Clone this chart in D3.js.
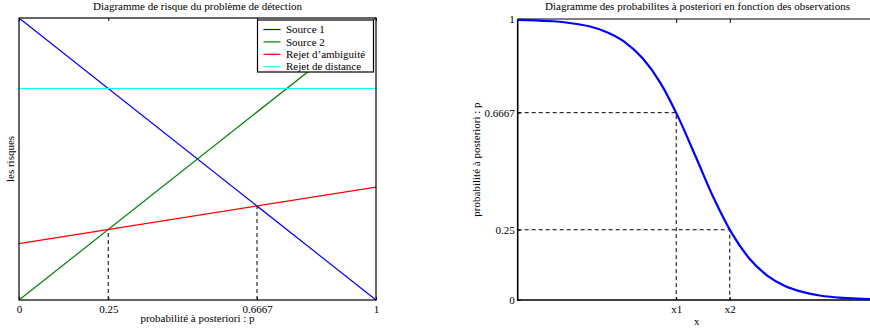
<!DOCTYPE html>
<html>
<head>
<meta charset="utf-8">
<script src="https://cdn.jsdelivr.net/npm/d3@7"></script>
<style>
  body { margin: 0; background: #fff; }
  text { font-family: "Liberation Serif", "Times New Roman", serif; fill: #000; }
</style>
</head>
<body>
<div id="chart"></div>
<script>
// left chart : risks vs posterior probability p
var pDomain = [0, 1];
var pTicks = [0, 0.25, 0.6667, 1];
var pTickLabels = ["0", "0.25", "0.6667", "1"];
var riskNames = ["Source 1", "Source 2", "Rejet d\u2019ambiguité", "Rejet de distance"];
var riskColors = ["#0000ff", "#008000", "#ff0000", "#00ffff"];
var riskStart = [1, 0, 0.2, 0.75];   // value at p = 0
var riskEnd = [0, 1, 0.4, 0.75];     // value at p = 1
var cutP = [0.25, 0.6667];
var cutRisk = [0.25, 0.3333];

var obsX = [0, 0.25, 0.5, 0.75, 1, 1.25, 1.5, 1.75, 2, 2.25, 2.5, 2.75, 3, 3.25, 3.5, 3.75, 4, 4.25, 4.5, 4.75, 5];
var obsP = [0.997, 0.995, 0.992, 0.985, 0.974, 0.953, 0.918, 0.860, 0.772, 0.650, 0.506, 0.360, 0.237, 0.146, 0.086, 0.049, 0.028, 0.015, 0.0085, 0.0047, 0.0026];
var xTicks = [2.22, 2.97];
var xTickLabels = ["x1", "x2"];
var yTicks = [0, 0.25, 0.6667, 1];
var yTickLabels = ["0", "0.25", "0.6667", "1"];

var width = 870, height = 332, fs = 11;
var svg = d3.select("#chart").append("svg")
  .attr("width", width).attr("height", height);

function styleAxis(g) {
  g.attr("font-family", null).attr("font-size", null);
  g.selectAll(".domain").remove();
  g.selectAll(".tick line").attr("stroke", "#000");
  g.selectAll(".tick text").style("font-size", fs + "px");
}

/* ---------- left chart ---------- */
var L = {left: 19, right: 376, top: 18, bottom: 300};
var xL = d3.scaleLinear().domain(pDomain).range([L.left, L.right]);
var yL = d3.scaleLinear().domain([0, 1]).range([L.bottom, L.top]);

var left = svg.append("g");

// risk lines
riskNames.forEach(function (name, i) {
  left.append("line")
    .attr("x1", xL(0)).attr("y1", yL(riskStart[i]))
    .attr("x2", xL(1)).attr("y2", yL(riskEnd[i]))
    .attr("stroke", riskColors[i]).attr("stroke-width", 1.2);
});

// dashed cuts
cutP.forEach(function (p, i) {
  left.append("line")
    .attr("x1", xL(p)).attr("x2", xL(p))
    .attr("y1", yL(0)).attr("y2", yL(cutRisk[i]))
    .attr("stroke", "#000").attr("stroke-dasharray", "4,3");
});

left.append("g")
  .attr("transform", "translate(0," + L.bottom + ")")
  .call(d3.axisBottom(xL).tickValues(pTicks).tickSize(-3).tickPadding(5)
    .tickFormat(function (d, i) { return pTickLabels[i]; }))
  .call(styleAxis);
left.append("g")
  .attr("transform", "translate(0," + L.top + ")")
  .call(d3.axisTop(xL).tickValues(pTicks).tickSize(-3).tickFormat(""))
  .call(styleAxis);

left.append("rect")
  .attr("x", L.left).attr("y", L.top)
  .attr("width", L.right - L.left).attr("height", L.bottom - L.top)
  .attr("fill", "none").attr("stroke", "#000").attr("stroke-width", 1.2);

// legend
var leg = left.append("g").attr("transform", "translate(257.5,20)");
leg.append("rect").attr("width", 116).attr("height", 52)
  .attr("fill", "#fff").attr("stroke", "#000").attr("stroke-width", 1.2);
riskNames.forEach(function (name, i) {
  var yy = 9.5 + i * 12.4;
  leg.append("line").attr("x1", 6).attr("x2", 23).attr("y1", yy).attr("y2", yy)
    .attr("stroke", riskColors[i]).attr("stroke-width", 1.2);
  leg.append("text").attr("x", 28.5).attr("y", yy).attr("dy", "0.33em")
    .style("font-size", fs + "px").text(name);
});

left.append("text").attr("x", (L.left + L.right) / 2).attr("y", 10)
  .attr("text-anchor", "middle").style("font-size", fs + "px")
  .text("Diagramme de risque du problème de détection");
left.append("text").attr("x", (L.left + L.right) / 2).attr("y", 322)
  .attr("text-anchor", "middle").style("font-size", fs + "px")
  .text("probabilité à posteriori : p");
left.append("text")
  .attr("transform", "translate(14," + (L.top + L.bottom) / 2 + ") rotate(-90)")
  .attr("text-anchor", "middle").style("font-size", fs + "px")
  .text("les risques");

/* ---------- right chart ---------- */
var R = {left: 517.7, right: 874.7, top: 19, bottom: 300};
var xR = d3.scaleLinear().domain([0, 5]).range([R.left, R.right]);
var yR = d3.scaleLinear().domain([0, 1]).range([R.bottom, R.top]);

var right = svg.append("g");

// dashed guides
[[xTicks[0], yTicks[2]], [xTicks[1], yTicks[1]]].forEach(function (c) {
  right.append("path")
    .attr("d", "M" + xR(0) + "," + yR(c[1]) + "H" + xR(c[0]) + "V" + yR(0))
    .attr("fill", "none").attr("stroke", "#000").attr("stroke-dasharray", "4,3");
});

right.append("g")
  .attr("transform", "translate(0," + R.bottom + ")")
  .call(d3.axisBottom(xR).tickValues(xTicks).tickSize(-3).tickPadding(5)
    .tickFormat(function (d, i) { return xTickLabels[i]; }))
  .call(styleAxis);
right.append("g")
  .attr("transform", "translate(0," + R.top + ")")
  .call(d3.axisTop(xR).tickValues(xTicks).tickSize(-4).tickFormat(""))
  .call(styleAxis);
right.append("g")
  .attr("transform", "translate(" + R.left + ",0)")
  .call(d3.axisLeft(yR).tickValues(yTicks).tickSize(-3).tickPadding(3)
    .tickFormat(function (d, i) { return yTickLabels[i]; }))
  .call(styleAxis);

right.append("line").attr("x1", R.left).attr("x2", R.right)
  .attr("y1", R.top).attr("y2", R.top).attr("stroke", "#000").attr("stroke-width", 1);
right.append("path")
  .attr("d", "M" + R.left + "," + R.top + "V" + R.bottom + "H" + R.right)
  .attr("fill", "none").attr("stroke", "#000").attr("stroke-width", 1.6);

var curve = d3.line()
  .x(function (d, i) { return xR(obsX[i]); })
  .y(function (d) { return yR(d); })
  .curve(d3.curveMonotoneX);
right.append("path").datum(obsP)
  .attr("d", curve)
  .attr("fill", "none").attr("stroke", "#0000ff").attr("stroke-width", 2.2);

right.append("text").attr("x", 697.5).attr("y", 10)
  .attr("text-anchor", "middle").style("font-size", fs + "px")
  .text("Diagramme des probabilites à posteriori en fonction des observations");
right.append("text").attr("x", 696.7).attr("y", 325)
  .attr("text-anchor", "middle").style("font-size", fs + "px")
  .text("x");
right.append("text")
  .attr("transform", "translate(480," + (R.top + R.bottom) / 2 + ") rotate(-90)")
  .attr("text-anchor", "middle").style("font-size", fs + "px")
  .text("probabilité à posteriori : p");
</script>
</body>
</html>
